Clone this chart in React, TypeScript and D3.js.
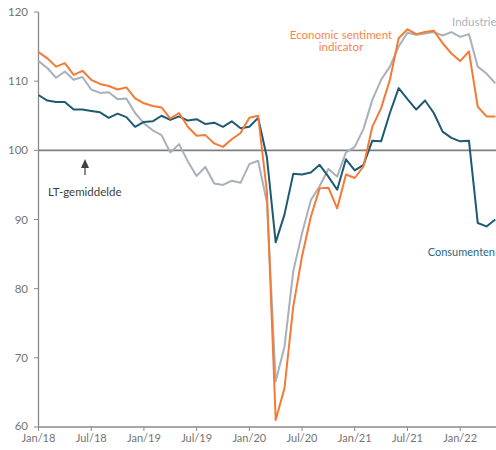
import React from "react";
import * as d3 from "d3";

const months: string[] = (() => {
  const out: string[] = [];
  for (let y = 2018; y <= 2022; y++) {
    for (let m = 1; m <= 12; m++) {
      if (y === 2022 && m > 5) break;
      out.push(`${y}-${String(m).padStart(2, "0")}`);
    }
  }
  return out;
})();

const esi: number[] = [
  114.2, 113.3, 112.1, 112.6, 110.9, 111.5, 110.2, 109.6, 109.3, 108.8, 109.1, 107.5,
  106.8, 106.4, 106.2, 104.6, 105.4, 103.4, 102.1, 102.2, 101.0, 100.5, 101.6, 102.5,
  104.7, 105.0, 94.0, 61.0, 65.6, 77.4, 84.7, 90.4, 94.5, 94.6, 91.6, 96.5,
  96.0, 97.7, 103.4, 106.1, 110.2, 116.2, 117.5, 116.8, 117.1, 117.3, 115.5, 114.0,
  112.9, 114.3, 106.3, 104.9, 104.9,
];

const industrie: number[] = [
  112.9, 111.9, 110.5, 111.4, 110.2, 110.6, 108.8, 108.3, 108.4, 107.4, 107.5, 105.4,
  103.9, 102.9, 102.2, 99.7, 100.9, 98.4, 96.3, 97.6, 95.2, 95.0, 95.6, 95.3,
  98.0, 98.5, 92.5, 66.6, 71.6, 82.5, 88.0, 92.8, 94.8, 97.3, 96.2, 99.7,
  100.5, 103.1, 107.3, 110.2, 112.1, 115.0, 117.0, 116.7, 116.9, 117.1, 116.6, 117.1,
  116.4, 116.8, 112.1, 111.1, 109.7,
];

const consumenten: number[] = [
  108.0, 107.2, 107.0, 107.0, 105.9, 105.9, 105.7, 105.5, 104.7, 105.3, 104.8, 103.4,
  104.1, 104.2, 105.0, 104.4, 104.9, 104.3, 104.5, 103.8, 104.0, 103.4, 104.2, 103.2,
  103.4, 104.7, 99.0, 86.7, 90.7, 96.6, 96.5, 96.8, 97.9, 96.2, 94.3, 98.7,
  97.1, 97.9, 101.4, 101.3, 105.4, 109.0, 107.4, 105.9, 107.2, 105.4, 102.7, 101.8,
  101.3, 101.4, 89.5, 89.0, 90.0,
];

const xTickLabels: string[] = ["Jan/18", "Jul/18", "Jan/19", "Jul/19", "Jan/20", "Jul/20", "Jan/21", "Jul/21", "Jan/22"];
const yTicks: number[] = [60, 70, 80, 90, 100, 110, 120];
const ltAverage = 100;

const W = 496;
const H = 450;
const FONT = "Lato, 'Open Sans', sans-serif";

export default function App() {
  const x = d3.scaleLinear().domain([0, months.length - 1]).range([38.5, 495.3]);
  const y = d3.scaleLinear().domain([60, 120]).range([427, 12]);

  const line = d3
    .line<number>()
    .x((_, i) => x(i))
    .y((d) => y(d));

  const series = [
    { data: industrie, color: "#a8b0bb" },
    { data: consumenten, color: "#1e5a72" },
    { data: esi, color: "#f47a36" },
  ];

  const axisColor = "#8a8a8a";
  const textColor = "#737373";

  return (
    <svg
      width={W}
      height={H}
      style={{ position: "absolute", left: 0, top: 0, display: "block", background: "#fff" }}
      fontFamily={FONT}
    >
      {/* y axis */}
      <line x1={38.5} x2={38.5} y1={y(120)} y2={y(60)} stroke={axisColor} strokeWidth={1.3} />
      {yTicks.map((t) => (
        <g key={t}>
          <line x1={34} x2={38.5} y1={y(t)} y2={y(t)} stroke={axisColor} strokeWidth={1} />
          <text x={28} y={y(t) - (t === 60 ? 1 : 0)} dy="0.35em" textAnchor="end" fontSize={11.5} fill={textColor}>
            {t}
          </text>
        </g>
      ))}
      {/* x axis */}
      <line x1={38.5} x2={W} y1={y(60)} y2={y(60)} stroke={axisColor} strokeWidth={1.3} />
      {xTickLabels.map((lab, k) => (
        <g key={lab}>
          <line x1={x(k * 6)} x2={x(k * 6)} y1={y(60)} y2={y(60) + 4} stroke={axisColor} strokeWidth={1} />
          <text x={x(k * 6)} y={442} textAnchor="middle" fontSize={11} fill={textColor}>
            {lab}
          </text>
        </g>
      ))}
      {/* long-term average line */}
      <line x1={38.5} x2={W} y1={y(ltAverage)} y2={y(ltAverage)} stroke="#7f7f7f" strokeWidth={1.6} />

      {series.map((s, i) => (
        <path key={i} d={line(s.data) || ""} fill="none" stroke={s.color} strokeWidth={2} strokeLinejoin="round" />
      ))}

      {/* annotations */}
      <text x={341} y={38.5} textAnchor="middle" fontSize={11.5} fill="#f4864a">
        Economic sentiment
      </text>
      <text x={341} y={51} textAnchor="middle" fontSize={11.5} fill="#f4864a">
        indicator
      </text>
      <text x={452} y={26} fontSize={11.5} fill="#aab2bd">
        Industrie
      </text>
      <text x={495} y={256} textAnchor="end" fontSize={11} fill="#2b6882">
        Consumenten
      </text>
      <text x={48} y={196} fontSize={11.5} fill="#404040">
        LT-gemiddelde
      </text>
      <line x1={85} x2={85} y1={175} y2={166} stroke="#404040" strokeWidth={1.2} />
      <path d="M85,159 L81,168 L89,168 Z" fill="#404040" />
    </svg>
  );
}
